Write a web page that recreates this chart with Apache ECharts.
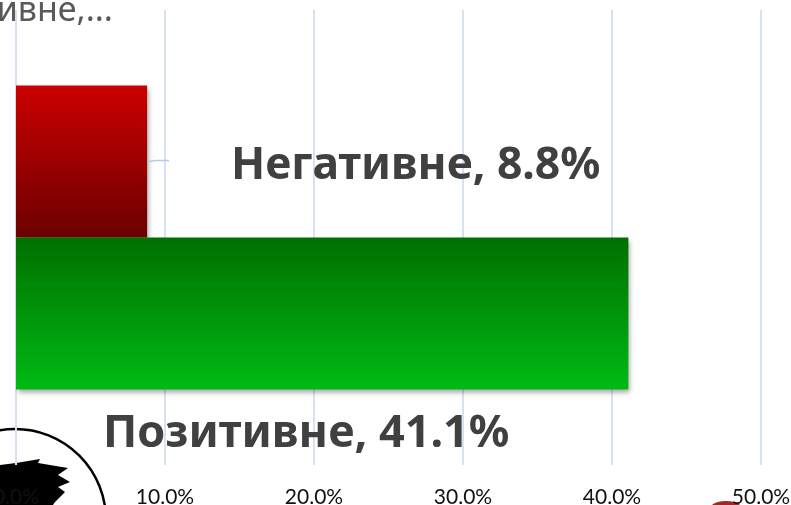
<!DOCTYPE html>
<html><head><meta charset="utf-8">
<style>html,body{margin:0;padding:0;background:#fff}#c{width:791px;height:505px}</style>
<script src="https://cdn.jsdelivr.net/npm/echarts@6/dist/echarts.min.js"></script>
</head><body><div id="c"></div>
<script>
const categories = ['Настрої'];
const seriesNames = ['Негативне', 'Позитивне'];
const negativeValues = [8.8];
const positiveValues = [41.1];
const tickMax = 50;
const tickStep = 10;
const clippedTitle = 'Позитивне,...';
const chart = echarts.init(document.getElementById('c'), null, {renderer: 'canvas'});
const font = '"Noto Sans","Open Sans",sans-serif';
function barSeries(name, data, c1, c2, offset, size) {
  return {
    name, type: 'bar', data, barWidth: 152, barGap: 0,
    itemStyle: {
      color: new echarts.graphic.LinearGradient(0, 0, 0, 1, [{offset: 0, color: c1}, {offset: 1, color: c2}]),
      shadowColor: 'rgba(0,0,0,0.35)', shadowBlur: 5, shadowOffsetX: 2, shadowOffsetY: 3
    },
    label: {
      show: true, position: 'insideLeft', offset, color: '#404040',
      fontFamily: font, fontWeight: 700, fontSize: size,
      formatter: p => p.seriesName + ', ' + p.value.toFixed(1) + '%'
    }
  };
}
chart.setOption({
  animation: false,
  backgroundColor: '#fff',
  grid: {left: 16, right: 30, top: 10, bottom: 40, containLabel: false, outerBoundsMode: 'none'},
  xAxis: {
    type: 'value', min: 0, max: tickMax, interval: tickStep,
    axisLine: {show: false}, axisTick: {show: false},
    splitLine: {lineStyle: {color: '#d6e2f4', width: 2}},
    axisLabel: {formatter: v => v.toFixed(1) + '%', color: '#111', fontFamily: 'Lato', fontSize: 21, margin: 22}
  },
  yAxis: {
    type: 'category', data: categories, inverse: true,
    axisLine: {show: false}, axisTick: {show: false}, axisLabel: {show: false}
  },
  series: [
    barSeries(seriesNames[0], negativeValues, '#cc0000', '#6c0000', [210, 5], 44.5),
    barSeries(seriesNames[1], positiveValues, '#006f00', '#00ba14', [82, 121], 45)
  ],
  graphic: {
    elements: [
      {type: 'text', z: 5, left: -102, top: -6, style: {text: clippedTitle, fill: '#595959', font: '34px ' + font}},
      {type: 'circle', z: -10, shape: {cx: 15, cy: 520, r: 91}, style: {fill: '#fff', stroke: '#000', lineWidth: 2.5}},
      {type: 'polygon', z: -9, shape: {points: [[0,465],[16,463],[40,459],[38,463],[68,468],[58,475],[70,482],[58,487],[65,492],[55,502],[53,505],[0,505]]}, style: {fill: '#000'}},
      {type: 'ellipse', z: -9, shape: {cx: 726, cy: 510, rx: 17, ry: 9}, style: {fill: '#a02a26'}},
      {type: 'polyline', z: 5, shape: {points: [[147,162],[155,160.5],[169,160.5]]}, style: {fill: null, stroke: '#b3cbea', lineWidth: 1.6}}
    ]
  }
});
</script></body></html>
